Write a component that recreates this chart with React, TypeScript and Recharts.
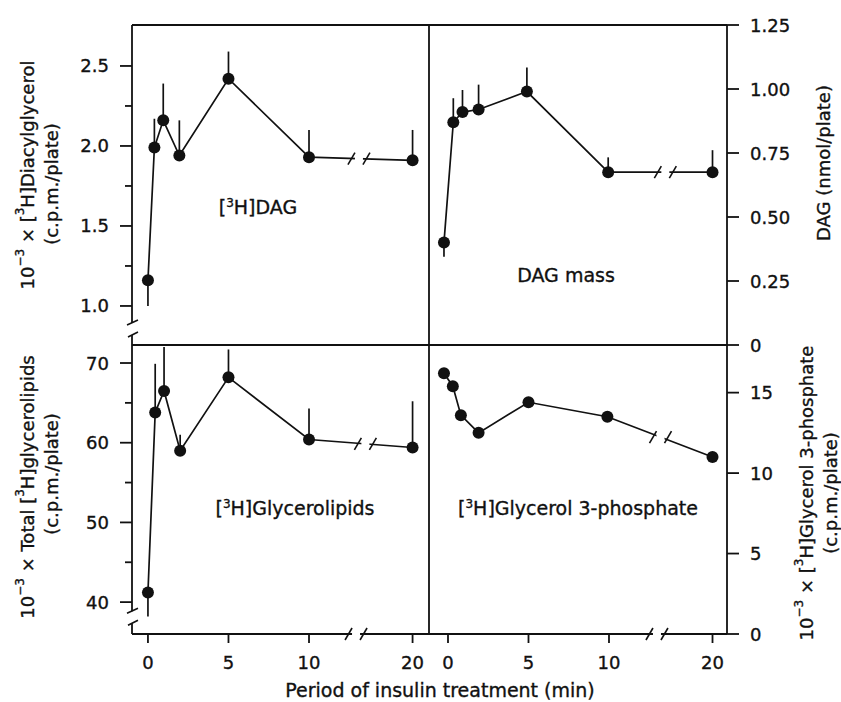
import { LineChart, Line, XAxis, YAxis, ErrorBar, ReferenceLine, ReferenceDot } from "recharts";

const FONT = '"DejaVu Sans", Verdana, sans-serif';
const INK = "#111";
const AXIS_W = 1.8;
const TEXT_STROKE = 0.35;

// time points (min)
const dagTimes = [0, 0.4, 0.95, 1.95, 5, 10, 20];
const dagCpm = [1.16, 1.99, 2.16, 1.94, 2.42, 1.93, 1.91];
const dagCpmErr = [[0.16, 0], [0, 0.18], [0, 0.23], [0, 0.22], [0, 0.17], [0, 0.17], [0, 0.19]];

const massTimes = [-0.25, 0.33, 0.9, 1.9, 4.9, 9.95, 20];
const dagMass = [0.4, 0.87, 0.91, 0.92, 0.99, 0.675, 0.675];
const dagMassErr = [[0.055, 0], [0, 0.094], [0, 0.086], [0, 0.097], [0, 0.094], [0, 0.058], [0, 0.086]];

const lipidTimes = [0, 0.45, 1, 2, 5, 10, 20];
const lipidCpm = [41.2, 63.8, 66.5, 59.0, 68.2, 60.4, 59.4];
const lipidErr = [[3.0, 0], [0, 6.1], [0, 5.5], [0, 2.0], [0, 3.5], [0, 3.9], [0, 5.8]];

const g3pTimes = [-0.25, 0.3, 0.8, 1.9, 5, 9.9, 20];
const g3pCpm = [16.2, 15.4, 13.6, 12.5, 14.4, 13.5, 11.0];

const xTickMinutes = [0, 5, 10, 20];
const dagTicks = [1.0, 1.25, 1.5, 1.75, 2.0, 2.25, 2.5];
const dagMajor = [1.0, 1.5, 2.0, 2.5];
const massTicks = [0, 0.25, 0.5, 0.75, 1.0, 1.25];
const lipidTicks = [40, 45, 50, 55, 60, 65, 70];
const lipidMajor = [40, 50, 60, 70];
const g3pTicks = [0, 5, 10, 15];

// the axis is broken between 10 and 20 min
const pos = (t: number) => (t <= 10 ? t : 10 + (t - 10) * 0.643);

const rows = (times: number[], vals: number[], errs?: number[][]) =>
  times.map((t, i) => ({ t, pos: pos(t), v: vals[i], err: errs ? errs[i] : undefined }));

const onLine = (d: any[], x: number) => {
  const a = d[d.length - 2];
  const b = d[d.length - 1];
  return a.v + ((b.v - a.v) * (x - a.pos)) / (b.pos - a.pos);
};

const VBreak = (p: any) => (
  <g>
    <rect x={p.cx - 4} y={p.cy - 6} width={8} height={12} fill="#fff" />
    <line x1={p.cx - 5} y1={p.cy - 4} x2={p.cx + 6} y2={p.cy - 9} stroke={INK} strokeWidth={1.6} />
    <line x1={p.cx - 4} y1={p.cy + 8} x2={p.cx + 6} y2={p.cy + 3} stroke={INK} strokeWidth={1.6} />
  </g>
);

const HBreak = (p: any) => (
  <g>
    <rect x={p.cx - 4} y={p.cy - 4} width={8} height={8} fill="#fff" />
    <line x1={p.cx - 11} y1={p.cy + 6} x2={p.cx - 4} y2={p.cy - 6} stroke={INK} strokeWidth={1.6} />
    <line x1={p.cx + 4} y1={p.cy + 6} x2={p.cx + 11} y2={p.cy - 6} stroke={INK} strokeWidth={1.6} />
  </g>
);

const tickText = { fontSize: 18, fill: INK, fontFamily: FONT, stroke: INK, strokeWidth: TEXT_STROKE };

const LeftTick = ({ x, y, payload, major, fmt }: any) => {
  const isMajor = major.includes(payload.value);
  return (
    <g>
      <line x1={x - (isMajor ? 12 : 7)} x2={x} y1={y} y2={y} stroke={INK} strokeWidth={AXIS_W} />
      {isMajor && (
        <text x={x - 23} y={y} textAnchor="end" dominantBaseline="central" {...tickText}>
          {fmt(payload.value)}
        </text>
      )}
    </g>
  );
};

const RightTick = ({ x, y, payload, fmt }: any) => (
  <g>
    <line x1={x} x2={x + 12} y1={y} y2={y} stroke={INK} strokeWidth={AXIS_W} />
    <text x={x + 23} y={y} textAnchor="start" dominantBaseline="central" {...tickText}>
      {fmt(payload.value)}
    </text>
  </g>
);

const BottomTick = ({ x, y, payload }: any) => (
  <g>
    <line x1={x} x2={x} y1={y} y2={y + 9} stroke={INK} strokeWidth={AXIS_W} />
    <text x={x} y={y + 28} textAnchor="middle" dominantBaseline="central" {...tickText}>
      {xTickMinutes[xTickMinutes.map(pos).indexOf(payload.value)]}
    </text>
  </g>
);

const dotStyle = { r: 6, fill: INK, stroke: INK, strokeWidth: 0 };
const errStyle = { width: 0, stroke: INK, strokeWidth: 1.7, direction: "y" as const, isAnimationActive: false };
const axisLine = { stroke: INK, strokeWidth: AXIS_W };

const LEFT_X: [number, number] = [-0.99, 17.45];
const RIGHT_X: [number, number] = [-1.18, 17.33];

const Sup = ({ children }: any) => (
  <tspan dy={-7} fontSize={12}>
    {children}
  </tspan>
);
const Back = ({ children }: any) => <tspan dy={7}>{children}</tspan>;

export default function App() {
  const dag = rows(dagTimes, dagCpm, dagCpmErr);
  const mass = rows(massTimes, dagMass, dagMassErr);
  const lipid = rows(lipidTimes, lipidCpm, lipidErr);
  const g3p = rows(g3pTimes, g3pCpm);

  const fmt1 = (v: number) => v.toFixed(1);
  const fmt2 = (v: number) => (v === 0 ? "0" : v.toFixed(2));
  const fmt0 = (v: number) => String(v);

  return (
    <div style={{ position: "absolute", left: 0, top: 0, width: 841, height: 702, background: "#fff", fontFamily: FONT }}>
      {/* top left: [3H]DAG */}
      <div style={{ position: "absolute", left: 0, top: 0 }}>
        <LineChart width={431} height={350} data={dag} margin={{ top: 25, right: 2, bottom: 5, left: 0 }}>
          <XAxis type="number" dataKey="pos" domain={LEFT_X} allowDataOverflow hide />
          <YAxis
            type="number"
            domain={[0.756, 2.756]}
            allowDataOverflow
            ticks={dagTicks}
            interval={0}
            width={132}
            tickSize={0}
            tickMargin={0}
            axisLine={axisLine}
            tickLine={false}
            tick={<LeftTick major={dagMajor} fmt={fmt1} />}
          />
          <ReferenceLine y={2.756} stroke={INK} strokeWidth={AXIS_W} />
          <ReferenceLine y={0.756} stroke={INK} strokeWidth={AXIS_W} />
          <ReferenceLine x={17.45} stroke={INK} strokeWidth={AXIS_W} />
          <Line dataKey="v" stroke={INK} strokeWidth={1.7} dot={dotStyle} isAnimationActive={false}>
            <ErrorBar dataKey="err" {...errStyle} />
          </Line>
          <ReferenceDot x={13.1} y={onLine(dag, 13.1)} r={0} ifOverflow="visible" shape={HBreak} />
          <ReferenceDot x={LEFT_X[0]} y={0.856} r={0} ifOverflow="visible" shape={VBreak} />
        </LineChart>
      </div>

      {/* top right: DAG mass */}
      <div style={{ position: "absolute", left: 400, top: 0 }}>
        <LineChart width={441} height={362} data={mass} margin={{ top: 25, right: 0, bottom: 17, left: 29 }}>
          <XAxis type="number" dataKey="pos" domain={RIGHT_X} allowDataOverflow hide />
          <YAxis
            type="number"
            orientation="right"
            domain={[0, 1.25]}
            allowDataOverflow
            ticks={massTicks}
            interval={0}
            width={114}
            tickSize={0}
            tickMargin={0}
            axisLine={axisLine}
            tickLine={false}
            tick={<RightTick fmt={fmt2} />}
          />
          <ReferenceLine y={1.25} stroke={INK} strokeWidth={AXIS_W} />
          <ReferenceLine y={0} stroke={INK} strokeWidth={AXIS_W} />
          <Line dataKey="v" stroke={INK} strokeWidth={1.7} dot={dotStyle} isAnimationActive={false}>
            <ErrorBar dataKey="err" {...errStyle} />
          </Line>
          <ReferenceDot x={13.5} y={onLine(mass, 13.5)} r={0} ifOverflow="visible" shape={HBreak} />
        </LineChart>
      </div>

      {/* bottom left: [3H]Glycerolipids */}
      <div style={{ position: "absolute", left: 0, top: 340 }}>
        <LineChart width={431} height={362} data={lipid} margin={{ top: 5, right: 2, bottom: 28, left: 0 }}>
          <XAxis
            type="number"
            dataKey="pos"
            domain={LEFT_X}
            allowDataOverflow
            ticks={xTickMinutes.map(pos)}
            interval={0}
            height={40}
            tickSize={0}
            tickMargin={0}
            axisLine={axisLine}
            tickLine={false}
            tick={<BottomTick />}
          />
          <YAxis
            type="number"
            domain={[36, 72.26]}
            allowDataOverflow
            ticks={lipidTicks}
            interval={0}
            width={132}
            tickSize={0}
            tickMargin={0}
            axisLine={axisLine}
            tickLine={false}
            tick={<LeftTick major={lipidMajor} fmt={fmt0} />}
          />
          <ReferenceLine x={17.45} stroke={INK} strokeWidth={AXIS_W} />
          <Line dataKey="v" stroke={INK} strokeWidth={1.7} dot={dotStyle} isAnimationActive={false}>
            <ErrorBar dataKey="err" {...errStyle} />
          </Line>
          <ReferenceDot x={13.5} y={onLine(lipid, 13.5)} r={0} ifOverflow="visible" shape={HBreak} />
          <ReferenceDot x={12.92} y={36} r={0} ifOverflow="visible" shape={HBreak} />
          <ReferenceDot x={LEFT_X[0]} y={38.1} r={0} ifOverflow="visible" shape={VBreak} />
        </LineChart>
      </div>

      {/* bottom right: [3H]Glycerol 3-phosphate */}
      <div style={{ position: "absolute", left: 400, top: 340 }}>
        <LineChart width={441} height={362} data={g3p} margin={{ top: 5, right: 0, bottom: 28, left: 29 }}>
          <XAxis
            type="number"
            dataKey="pos"
            domain={RIGHT_X}
            allowDataOverflow
            ticks={xTickMinutes.map(pos)}
            interval={0}
            height={40}
            tickSize={0}
            tickMargin={0}
            axisLine={axisLine}
            tickLine={false}
            tick={<BottomTick />}
          />
          <YAxis
            type="number"
            orientation="right"
            domain={[0, 17.96]}
            allowDataOverflow
            ticks={g3pTicks}
            interval={0}
            width={114}
            tickSize={0}
            tickMargin={0}
            axisLine={axisLine}
            tickLine={false}
            tick={<RightTick fmt={fmt0} />}
          />
          <Line dataKey="v" stroke={INK} strokeWidth={1.7} dot={dotStyle} isAnimationActive={false} />
          <ReferenceDot x={13.2} y={onLine(g3p, 13.2)} r={0} ifOverflow="visible" shape={HBreak} />
          <ReferenceDot x={12.98} y={0} r={0} ifOverflow="visible" shape={HBreak} />
        </LineChart>
      </div>

      {/* titles and panel labels */}
      <svg
        width={841}
        height={702}
        style={{ position: "absolute", left: 0, top: 0, pointerEvents: "none" }}
        fontFamily={FONT}
        fill={INK}
        stroke={INK}
        strokeWidth={TEXT_STROKE}
      >
        <g transform="translate(27,175) rotate(-90)">
          <text textAnchor="middle" dominantBaseline="central" fontSize={18}>
            10<Sup>−3</Sup>
            <Back> × [</Back>
            <Sup>3</Sup>
            <Back>H]Diacylglycerol</Back>
          </text>
        </g>
        <g transform="translate(51,184) rotate(-90)">
          <text textAnchor="middle" dominantBaseline="central" fontSize={18}>(c.p.m./plate)</text>
        </g>
        <g transform="translate(27,487) rotate(-90)">
          <text textAnchor="middle" dominantBaseline="central" fontSize={18}>
            10<Sup>−3</Sup>
            <Back> × Total [</Back>
            <Sup>3</Sup>
            <Back>H]glycerolipids</Back>
          </text>
        </g>
        <g transform="translate(51,474) rotate(-90)">
          <text textAnchor="middle" dominantBaseline="central" fontSize={18}>(c.p.m./plate)</text>
        </g>
        <g transform="translate(823,163) rotate(-90)">
          <text textAnchor="middle" dominantBaseline="central" fontSize={18}>DAG (nmol/plate)</text>
        </g>
        <g transform="translate(806,493) rotate(-90)">
          <text textAnchor="middle" dominantBaseline="central" fontSize={18}>
            10<Sup>−3</Sup>
            <Back> × [</Back>
            <Sup>3</Sup>
            <Back>H]Glycerol 3-phosphate</Back>
          </text>
        </g>
        <g transform="translate(830,493) rotate(-90)">
          <text textAnchor="middle" dominantBaseline="central" fontSize={18}>(c.p.m./plate)</text>
        </g>

        <text x={258} y={214} textAnchor="middle" fontSize={19}>
          [<Sup>3</Sup>
          <Back>H]DAG</Back>
        </text>
        <text x={566} y={282} textAnchor="middle" fontSize={19}>DAG mass</text>
        <text x={295} y={515} textAnchor="middle" fontSize={19}>
          [<Sup>3</Sup>
          <Back>H]Glycerolipids</Back>
        </text>
        <text x={578} y={515} textAnchor="middle" fontSize={19}>
          [<Sup>3</Sup>
          <Back>H]Glycerol 3-phosphate</Back>
        </text>

        <text x={440} y={697} textAnchor="middle" fontSize={19}>Period of insulin treatment (min)</text>
      </svg>
    </div>
  );
}
